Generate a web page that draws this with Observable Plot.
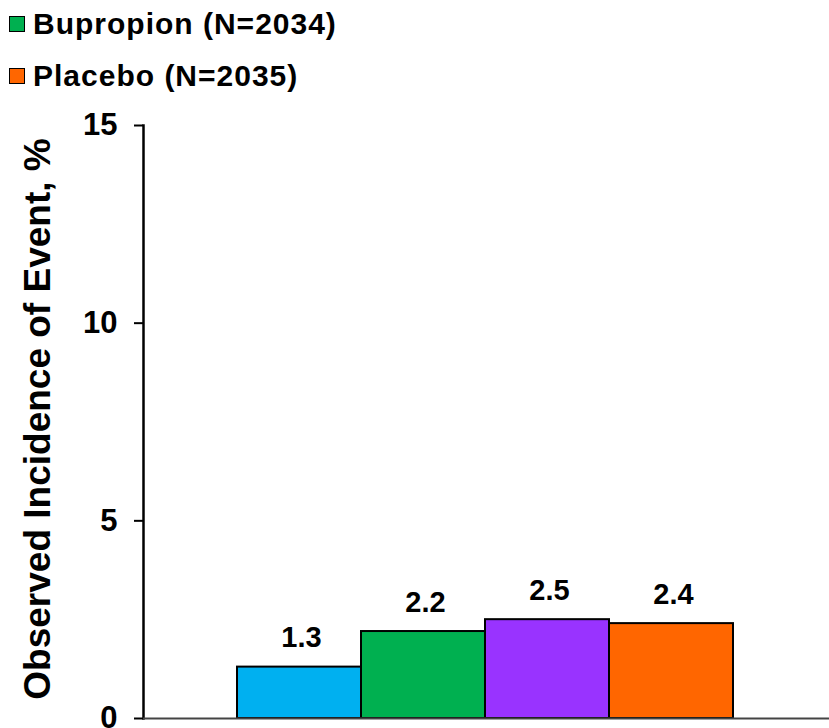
<!DOCTYPE html>
<html>
<head>
<meta charset="utf-8">
<script src="https://cdn.jsdelivr.net/npm/d3@7"></script>
<script src="https://cdn.jsdelivr.net/npm/@observablehq/plot@0.6"></script>
<style>
  html, body { margin: 0; padding: 0; background: #fff; }
  body { width: 829px; height: 728px; overflow: hidden; font-family: Arial, "Liberation Sans", sans-serif; }
  #legend { position: relative; height: 100px; }
  .item { position: absolute; left: 9px; display: flex; align-items: center; font-weight: bold; font-size: 30px; letter-spacing: 1px; color: #000; line-height: 1; }
  .sw { width: 14px; height: 14px; border: 1.5px solid #000; margin-right: 8px; }
  #chart svg { display: block; }
  g[aria-label="bar-values"] text { letter-spacing: 2.5px; }
  g[aria-label="y-title"] text { letter-spacing: 0.6px; }
</style>
</head>
<body>
<div id="legend"></div>
<div id="chart"></div>
<script>
const categories = ["A", "B", "C", "D"];
const values = [1.3, 2.2, 2.5, 2.4];
const colors = ["#00B0F0", "#00B050", "#9933FF", "#FF6600"];
const legendLabels = ["Bupropion (N=2034)", "Placebo (N=2035)"];
const legendColors = ["#00B050", "#FF6600"];
const yTicks = [0, 5, 10, 15];
const yLabel = "Observed Incidence of Event, %";

const data = categories.map((c, i) => ({ cat: c, value: values[i], color: colors[i] }));

const legend = document.getElementById("legend");
legendLabels.forEach((t, i) => {
  const d = document.createElement("div");
  d.className = "item";
  d.style.top = (9 + i * 52) + "px";
  d.innerHTML = `<span class="sw" style="background:${legendColors[i]}"></span><span>${t}</span>`;
  legend.appendChild(d);
});

const font = "Arial, 'Liberation Sans', sans-serif";
const chart = Plot.plot({
  width: 829,
  height: 628,
  marginLeft: 143,
  marginRight: 0,
  marginTop: 25,
  marginBottom: 10,
  style: { fontFamily: font, color: "#000", background: "#fff", overflow: "visible" },
  x: { domain: categories, range: [236, 733], padding: 0, axis: null },
  y: { domain: [0, 15], range: [618, 25] },
  marks: [
    Plot.axisY({ ticks: yTicks, tickSize: 9, tickPadding: 17, fontSize: 31, fontWeight: "bold", stroke: "#000", strokeWidth: 2, label: null, tickFormat: d => String(d) }),
    Plot.frame({ anchor: "left", stroke: "#000", strokeWidth: 2.5 }),
    Plot.barY(data, { x: "cat", y: "value", fill: "color", stroke: "#000", strokeWidth: 2, inset: 0 }),
    Plot.ruleY([0], { stroke: "#444", strokeWidth: 2 }),
    Plot.text(data, { x: "cat", y: "value", text: d => d.value.toFixed(1), dy: -20, dx: 2, lineAnchor: "bottom", fontSize: 29, fontWeight: "bold", fill: "#000", ariaLabel: "bar-values" }),
    Plot.text([yLabel], { frameAnchor: "left", textAnchor: "middle", dx: -105, dy: -3, rotate: -90, fontSize: 37, fontWeight: "bold", fill: "#000", ariaLabel: "y-title" })
  ]
});
document.getElementById("chart").appendChild(chart);
</script>
</body>
</html>
